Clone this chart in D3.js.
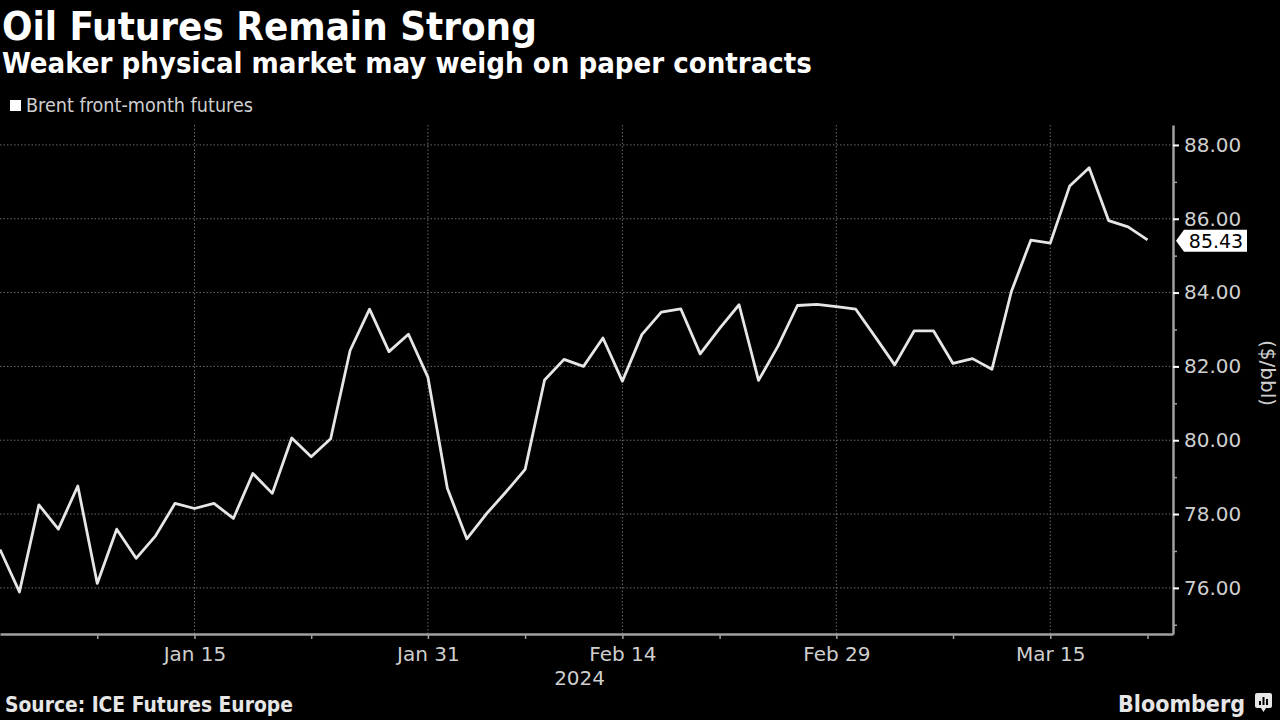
<!DOCTYPE html>
<html>
<head>
<meta charset="utf-8">
<script src="https://cdn.jsdelivr.net/npm/d3@7"></script>
<style>
  html, body { margin: 0; padding: 0; background: #000; }
  svg { display: block; }
</style>
</head>
<body>
<svg id="chart" width="1280" height="720"></svg>
<script>
// ---------- DATA ----------
const dates = [
  "2023-12-29","2024-01-02","2024-01-03","2024-01-04","2024-01-05",
  "2024-01-08","2024-01-09","2024-01-10","2024-01-11","2024-01-12",
  "2024-01-15","2024-01-16","2024-01-17","2024-01-18","2024-01-19",
  "2024-01-22","2024-01-23","2024-01-24","2024-01-25","2024-01-26",
  "2024-01-29","2024-01-30","2024-01-31","2024-02-01","2024-02-02",
  "2024-02-05","2024-02-06","2024-02-07","2024-02-08","2024-02-09",
  "2024-02-12","2024-02-13","2024-02-14","2024-02-15","2024-02-16",
  "2024-02-19","2024-02-20","2024-02-21","2024-02-22","2024-02-23",
  "2024-02-26","2024-02-27","2024-02-28","2024-02-29","2024-03-01",
  "2024-03-04","2024-03-05","2024-03-06","2024-03-07","2024-03-08",
  "2024-03-11","2024-03-12","2024-03-13","2024-03-14","2024-03-15",
  "2024-03-18","2024-03-19","2024-03-20","2024-03-21","2024-03-22"
];
const brent = [
  77.04, 75.89, 78.25, 77.59, 78.76,
  76.12, 77.59, 76.80, 77.41, 78.29,
  78.15, 78.29, 77.88, 79.10, 78.56,
  80.06, 79.55, 80.04, 82.43, 83.55,
  82.40, 82.87, 81.71, 78.70, 77.33,
  78.00, 78.59, 79.21, 81.63, 82.19,
  82.00, 82.77, 81.60, 82.86, 83.47,
  83.56, 82.34, 83.03, 83.67, 81.62,
  82.55, 83.65, 83.68, 83.62, 83.55,
  82.80, 82.04, 82.96, 82.96, 82.08,
  82.21, 81.92, 84.03, 85.42, 85.34,
  86.89, 87.38, 85.95, 85.78, 85.43
];
const majorTickDates = ["2024-01-15","2024-01-31","2024-02-14","2024-02-29","2024-03-15"];
const majorTickLabels = ["Jan 15","Jan 31","Feb 14","Feb 29","Mar 15"];
const minorTickDates = ["2024-01-08","2024-01-23","2024-02-07","2024-02-21","2024-03-08","2024-03-22"];
const yMajorTicks = [76, 78, 80, 82, 84, 86, 88];
const yMinorTicks = [75, 77, 79, 81, 83, 85, 87];
const yearLabel = "2024";
const titleText = "Oil Futures Remain Strong";
const subtitleText = "Weaker physical market may weigh on paper contracts";
const legendText = "Brent front-month futures";
const unitText = "($/bbl)";
const sourceText = "Source: ICE Futures Europe";
const brandText = "Bloomberg";

// ---------- LAYOUT ----------
const svg = d3.select("#chart");
const W = 1280, H = 720;
const plot = { left: 0, right: 1173, top: 125, bottom: 634 };
const FONT = "'DejaVu Sans Condensed', 'DejaVu Sans', sans-serif";
const FONT2 = "'DejaVu Sans', sans-serif";
const TXT = "#cfcfcf";

svg.append("rect").attr("width", W).attr("height", H).attr("fill", "#000");

const idx = d => dates.indexOf(d);
const x = d3.scaleLinear().domain([0, 60.31]).range([plot.left, plot.right]);
const y = d3.scaleLinear().domain([74.75, 88.54]).range([plot.bottom, plot.top]);

function fit(sel, width) {
  const len = sel.node().getComputedTextLength();
  const fs = parseFloat(sel.attr("font-size"));
  sel.attr("font-size", (fs * width / len).toFixed(2));
  return sel;
}

// ---------- TITLES ----------
fit(svg.append("text").attr("x", 2).attr("y", 40).text(titleText)
  .attr("font-family", FONT).attr("font-weight", "bold").attr("font-size", 36)
  .attr("fill", "#ffffff"), 535);
fit(svg.append("text").attr("x", 2).attr("y", 73).text(subtitleText)
  .attr("font-family", FONT).attr("font-weight", "bold").attr("font-size", 26)
  .attr("fill", "#ffffff"), 810);

svg.append("rect").attr("x", 10).attr("y", 100).attr("width", 11).attr("height", 11).attr("fill", "#ffffff");
fit(svg.append("text").attr("x", 26).attr("y", 112).text(legendText)
  .attr("font-family", FONT).attr("font-size", 16).attr("fill", TXT), 227);

// ---------- GRID ----------
const grid = svg.append("g");
grid.selectAll("line.h").data(yMajorTicks).join("line")
  .attr("x1", plot.left).attr("x2", plot.right - 2)
  .attr("y1", d => y(d)).attr("y2", d => y(d))
  .attr("stroke", "#6a6a6a").attr("stroke-width", 1).attr("stroke-dasharray", "1.5,2");
grid.selectAll("line.v").data(majorTickDates).join("line")
  .attr("x1", d => x(idx(d))).attr("x2", d => x(idx(d)))
  .attr("y1", plot.top).attr("y2", plot.bottom)
  .attr("stroke", "#6a6a6a").attr("stroke-width", 1).attr("stroke-dasharray", "1.5,2");

// ---------- AXES ----------
const xAxisMajor = d3.axisBottom(x)
  .tickValues(majorTickDates.map(idx))
  .tickFormat((d, i) => majorTickLabels[i])
  .tickSize(5).tickSizeOuter(0).tickPadding(8);
const gx = svg.append("g").attr("transform", `translate(0,${plot.bottom})`).call(xAxisMajor);
gx.select(".domain").attr("stroke", "#a0a0a0").attr("stroke-width", 2.5);
gx.selectAll(".tick line").attr("stroke", "#a0a0a0").attr("stroke-width", 1.5);
gx.selectAll(".tick text").attr("fill", TXT).attr("font-family", FONT2).attr("font-size", 20);

const xAxisMinor = d3.axisBottom(x)
  .tickValues(minorTickDates.map(idx)).tickFormat("").tickSize(5).tickSizeOuter(0);
const gxm = svg.append("g").attr("transform", `translate(0,${plot.bottom})`).call(xAxisMinor);
gxm.select(".domain").remove();
gxm.selectAll(".tick line").attr("stroke", "#a0a0a0").attr("stroke-width", 1.5);

svg.append("text").attr("x", x((idx("2024-02-07") + idx("2024-02-14")) / 2 + 0.3)).attr("y", 685)
  .attr("text-anchor", "middle").attr("fill", TXT).attr("font-family", FONT2).attr("font-size", 20)
  .text(yearLabel);

const yAxisMajor = d3.axisRight(y)
  .tickValues(yMajorTicks).tickFormat(d3.format(".2f"))
  .tickSize(6).tickSizeOuter(0).tickPadding(5);
const gy = svg.append("g").attr("transform", `translate(${plot.right},0)`).call(yAxisMajor);
gy.select(".domain").attr("stroke", "#a0a0a0").attr("stroke-width", 2.5);
gy.selectAll(".tick line").attr("stroke", "#ffffff").attr("stroke-width", 2);
gy.selectAll(".tick text").attr("fill", TXT).attr("font-family", FONT2).attr("font-size", 20);

const yAxisMinor = d3.axisRight(y).tickValues(yMinorTicks).tickFormat("").tickSize(4).tickSizeOuter(0);
const gym = svg.append("g").attr("transform", `translate(${plot.right},0)`).call(yAxisMinor);
gym.select(".domain").remove();
gym.selectAll(".tick line").attr("stroke", "#a0a0a0").attr("stroke-width", 1.5);

svg.append("text")
  .attr("transform", `translate(1261,373) rotate(90)`)
  .attr("text-anchor", "middle").attr("fill", TXT).attr("font-family", FONT2).attr("font-size", 20)
  .text(unitText);

// ---------- LINE ----------
svg.append("clipPath").attr("id", "clip").append("rect")
  .attr("x", plot.left).attr("y", plot.top - 10).attr("width", plot.right - plot.left).attr("height", plot.bottom - plot.top + 10);
const line = d3.line().x((d, i) => x(i)).y(d => y(d));
svg.append("path").datum(brent)
  .attr("clip-path", "url(#clip)")
  .attr("d", line).attr("fill", "none")
  .attr("stroke", "#e6e6e6").attr("stroke-width", 2.8).attr("stroke-linejoin", "round");

// last value label
const last = brent[brent.length - 1];
const ly = y(last) + 1;
const lx = plot.right + 3;
svg.append("path")
  .attr("d", `M${lx},${ly} L${lx + 8},${ly - 11} L${lx + 71},${ly - 11} L${lx + 71},${ly + 11} L${lx + 8},${ly + 11} Z`)
  .attr("fill", "#ffffff");
svg.append("text").attr("x", lx + 40).attr("y", ly + 7)
  .attr("text-anchor", "middle").attr("fill", "#000").attr("font-family", FONT2).attr("font-size", 19)
  .text(d3.format(".2f")(last));

// ---------- FOOTER ----------
fit(svg.append("text").attr("x", 5).attr("y", 712).text(sourceText)
  .attr("font-family", FONT).attr("font-weight", "bold").attr("font-size", 18)
  .attr("fill", "#e6e6e6"), 288);
fit(svg.append("text").attr("x", 1118).attr("y", 712).text(brandText)
  .attr("font-family", FONT).attr("font-weight", "bold").attr("font-size", 22)
  .attr("fill", "#e6e6e6"), 127);
const ic = svg.append("g").attr("transform", "translate(1255,693)");
ic.append("rect").attr("width", 17).attr("height", 15).attr("rx", 2).attr("fill", "#e6e6e6");
ic.append("path").attr("d", "M6,15 L8.5,19 L11,15 Z").attr("fill", "#e6e6e6");
ic.append("rect").attr("x", 4).attr("y", 8).attr("width", 2).attr("height", 4).attr("fill", "#000");
ic.append("rect").attr("x", 7.5).attr("y", 4).attr("width", 2).attr("height", 8).attr("fill", "#000");
ic.append("rect").attr("x", 11).attr("y", 6).attr("width", 2).attr("height", 6).attr("fill", "#000");
</script>
</body>
</html>
